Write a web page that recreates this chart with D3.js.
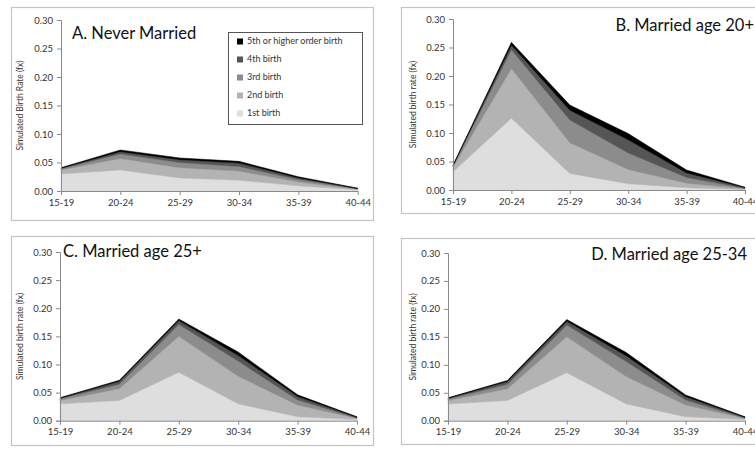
<!DOCTYPE html>
<html>
<head>
<meta charset="utf-8">
<script src="https://cdn.jsdelivr.net/npm/d3@7"></script>
<style>
  html, body { margin: 0; padding: 0; background: #fff; }
  svg { display: block; }
  text { font-family: Lato, "Open Sans", sans-serif; }
</style>
</head>
<body>
<svg id="chart" width="755" height="454"></svg>
<script>
// ---- Data ----
const ageGroups = ["15-19", "20-24", "25-29", "30-34", "35-39", "40-44"];
const seriesNames = ["1st birth", "2nd birth", "3rd birth", "4th birth", "5th or higher order birth"];
const yTicks = [0, 0.05, 0.10, 0.15, 0.20, 0.25, 0.30];

// layers per panel: [1st, 2nd, 3rd, 4th, 5th+] by age group
const neverMarried = [
  [0.030, 0.037, 0.023, 0.019, 0.009, 0.002],
  [0.007, 0.020, 0.018, 0.016, 0.007, 0.001],
  [0.002, 0.008, 0.009, 0.008, 0.004, 0.001],
  [0.001, 0.004, 0.005, 0.006, 0.003, 0.0005],
  [0.001, 0.003, 0.003, 0.003, 0.002, 0.0005]
];
const marriedAge20 = [
  [0.032, 0.126, 0.029, 0.011, 0.004, 0.001],
  [0.008, 0.087, 0.054, 0.025, 0.008, 0.001],
  [0.002, 0.033, 0.040, 0.029, 0.010, 0.001],
  [0.001, 0.008, 0.017, 0.023, 0.008, 0.001],
  [0.0005, 0.005, 0.009, 0.011, 0.005, 0.001]
];
const marriedAge25 = [
  [0.030, 0.036, 0.086, 0.030, 0.007, 0.002],
  [0.006, 0.021, 0.064, 0.049, 0.021, 0.002],
  [0.003, 0.008, 0.021, 0.027, 0.009, 0.001],
  [0.001, 0.005, 0.007, 0.010, 0.006, 0.001],
  [0.001, 0.002, 0.003, 0.006, 0.003, 0.001]
];
const marriedAge2534 = [
  [0.030, 0.036, 0.086, 0.030, 0.007, 0.002],
  [0.006, 0.021, 0.064, 0.049, 0.021, 0.002],
  [0.003, 0.008, 0.021, 0.027, 0.009, 0.001],
  [0.001, 0.005, 0.007, 0.010, 0.006, 0.001],
  [0.001, 0.002, 0.003, 0.006, 0.003, 0.001]
];
const panelTitles = ["A. Never Married", "B. Married age 20+", "C. Married age 25+", "D. Married age 25-34"];
const yTitles = ["Simulated Birth Rate (fx)", "Simulated birth rate (fx)", "Simulated birth rate (fx)", "Simulated birth rate (fx)"];

// ---- Styles / layout ----
const colors = ["#dedede", "#b3b3b3", "#8c8c8c", "#555555", "#000000"];
const textColor = "#333";
const axisColor = "#8a8a8a";

const panels = [
  { data: neverMarried, title: panelTitles[0], ytitle: yTitles[0],
    box: [11, 7, 362, 213], plot: { x0: 61, x1: 357.7, yTop: 20, yBot: 191 },
    titlePos: { x: 72, y: 39, anchor: "start" }, ytitleX: 21, legend: true },
  { data: marriedAge20, title: panelTitles[1], ytitle: yTitles[1],
    box: [401, 7, 362, 206], plot: { x0: 453, x1: 745, yTop: 19, yBot: 190 },
    titlePos: { x: 754, y: 31, anchor: "end" }, ytitleX: 414, legend: false },
  { data: marriedAge25, title: panelTitles[2], ytitle: yTitles[2],
    box: [11, 236, 362, 209], plot: { x0: 60, x1: 357, yTop: 252, yBot: 420.7 },
    titlePos: { x: 63, y: 257, anchor: "start" }, ytitleX: 21, legend: false },
  { data: marriedAge2534, title: panelTitles[3], ytitle: yTitles[3],
    box: [401, 238, 362, 206], plot: { x0: 448, x1: 745, yTop: 253, yBot: 420.7 },
    titlePos: { x: 747, y: 260, anchor: "end" }, ytitleX: 414, legend: false }
];

const svg = d3.select("#chart");

panels.forEach(p => {
  const g = svg.append("g");
  // panel border
  g.append("rect")
    .attr("x", p.box[0] + 0.5).attr("y", p.box[1] + 0.5)
    .attr("width", p.box[2]).attr("height", p.box[3])
    .attr("fill", "#fff").attr("stroke", "#c4c4c4").attr("stroke-width", 1.2);

  const x = d3.scalePoint().domain(ageGroups).range([p.plot.x0, p.plot.x1]);
  const y = d3.scaleLinear().domain([0, 0.30]).range([p.plot.yBot, p.plot.yTop]);

  // build rows for stack
  const rows = ageGroups.map((a, i) => {
    const r = { age: a };
    seriesNames.forEach((s, k) => { r[s] = p.data[k][i]; });
    return r;
  });
  const stacked = d3.stack().keys(seriesNames)(rows);

  const area = d3.area()
    .x(d => x(d.data.age))
    .y0(d => y(d[0]))
    .y1(d => y(d[1]));

  g.selectAll("path.layer").data(stacked).join("path")
    .attr("class", "layer")
    .attr("d", area)
    .attr("fill", (d, i) => colors[i])
    .attr("stroke", (d, i) => colors[i])
    .attr("stroke-width", 0.5);

  // y axis
  const yAxis = d3.axisLeft(y).tickValues(yTicks).tickFormat(d3.format(".2f")).tickSize(4).tickPadding(4);
  const ya = g.append("g").attr("transform", `translate(${p.plot.x0},0)`).call(yAxis);
  ya.select(".domain").attr("stroke", axisColor);
  ya.selectAll(".tick line").attr("stroke", axisColor);
  ya.selectAll(".tick text").attr("fill", textColor).attr("font-size", 9.5)
    .style("font-family", "Lato, 'Open Sans', sans-serif");

  // x axis
  const xAxis = d3.axisBottom(x).tickSize(4).tickSizeOuter(0).tickPadding(4);
  const xa = g.append("g").attr("transform", `translate(0,${p.plot.yBot})`).call(xAxis);
  xa.select(".domain").attr("stroke", axisColor);
  xa.selectAll(".tick line").attr("stroke", axisColor);
  xa.selectAll(".tick text").attr("fill", textColor).attr("font-size", 9.5)
    .style("font-family", "Lato, 'Open Sans', sans-serif");

  // y title
  const yc = (p.plot.yTop + p.plot.yBot) / 2;
  g.append("text")
    .attr("transform", `translate(${p.ytitleX},${yc}) rotate(-90)`)
    .attr("text-anchor", "middle").attr("dominant-baseline", "middle")
    .attr("font-size", 8.5).attr("fill", textColor)
    .text(p.ytitle);

  // panel title
  g.append("text")
    .attr("x", p.titlePos.x).attr("y", p.titlePos.y)
    .attr("text-anchor", p.titlePos.anchor)
    .attr("font-size", 16.5).attr("fill", "#111")
    .text(p.title);

  if (p.legend) {
    const lg = g.append("g");
    lg.append("rect").attr("x", 228.5).attr("y", 32.5).attr("width", 134).attr("height", 92)
      .attr("fill", "#fff").attr("stroke", "#555").attr("stroke-width", 1);
    const order = seriesNames.slice().reverse();
    const rowY = [42, 60, 78, 96, 114];
    order.forEach((s, i) => {
      const ci = seriesNames.indexOf(s);
      lg.append("rect").attr("x", 237).attr("y", rowY[i] - 3.5).attr("width", 6).attr("height", 6)
        .attr("fill", colors[ci]);
      lg.append("text").attr("x", 247).attr("y", rowY[i])
        .attr("dominant-baseline", "middle")
        .attr("font-size", 9).attr("fill", textColor).text(s);
    });
  }
});
</script>
</body>
</html>
